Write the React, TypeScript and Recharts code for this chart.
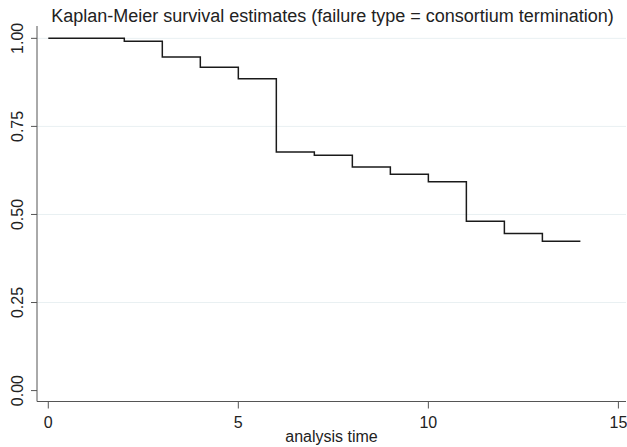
import { LineChart, Line, XAxis, YAxis, ReferenceLine } from "recharts";

// analysis time at each step and survival estimate from that point on
const times = [0, 2, 3, 4, 5, 6, 7, 8, 9, 10, 11, 12, 13, 14];
const survival = [1.0, 0.992, 0.947, 0.918, 0.885, 0.677, 0.668, 0.635, 0.614, 0.593, 0.481, 0.446, 0.424, 0.424];

const xTicks = [0, 5, 10, 15];
const yTicks = [0, 0.25, 0.5, 0.75, 1];
const gridLines = [0.25, 0.5, 0.75, 1];

const data = times.map((t, i) => ({ t, s: survival[i] }));

const FONT = "'Liberation Sans', Arial, sans-serif";
const TITLE = "Kaplan-Meier survival estimates (failure type = consortium termination)";

const YTick = ({ y, payload }: { y?: number; payload?: { value: number } }) => {
  if (y == null || !payload) return null;
  return (
    <text
      x={23.5}
      y={y}
      transform={`rotate(-90, 23.5, ${y})`}
      textAnchor="middle"
      fontSize={16}
      fontFamily={FONT}
      fill="#222"
    >
      {payload.value.toFixed(2)}
    </text>
  );
};

export default function App() {
  return (
    <div style={{ position: "absolute", left: 0, top: 0, width: 627, height: 447, background: "#fff" }}>
      <LineChart width={627} height={447} data={data} margin={{ top: 26, right: 1, bottom: 0, left: 0 }}>
        {gridLines.map((v) => (
          <ReferenceLine key={v} y={v} stroke="#e9f0f2" strokeWidth={1} ifOverflow="visible" />
        ))}
        <XAxis
          type="number"
          dataKey="t"
          domain={[-0.297, 15.2]}
          allowDataOverflow
          ticks={xTicks}
          height={45.5}
          tickSize={7}
          tickMargin={8}
          stroke="#555"
          tick={{ fill: "#222", fontSize: 16, fontFamily: FONT }}
          label={{ value: "analysis time", position: "insideBottom", offset: 5, fill: "#222", fontSize: 16, fontFamily: FONT }}
        />
        <YAxis
          type="number"
          domain={[-0.031, 1.035]}
          allowDataOverflow
          ticks={yTicks}
          width={37}
          tickSize={6}
          stroke="#555"
          tick={<YTick />}
        />
        <Line
          type="stepAfter"
          dataKey="s"
          stroke="#1a1a1a"
          strokeWidth={1.5}
          dot={false}
          isAnimationActive={false}
        />
      </LineChart>
      <svg width={627} height={30} style={{ position: "absolute", left: 0, top: 0, pointerEvents: "none" }}>
        <text x={332.5} y={21.5} textAnchor="middle" fontSize={18} fontFamily={FONT} fill="#222">
          {TITLE}
        </text>
      </svg>
    </div>
  );
}
